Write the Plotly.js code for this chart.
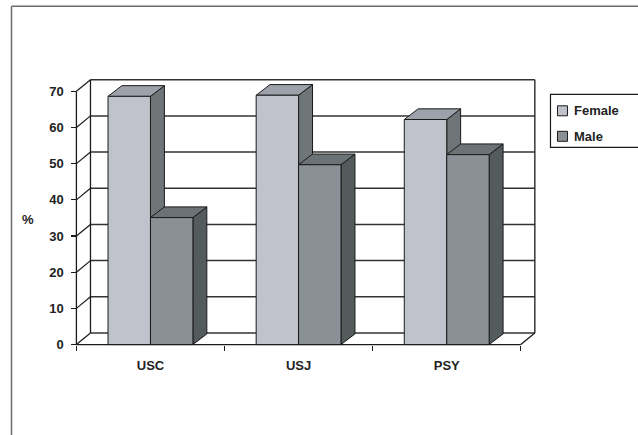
<!DOCTYPE html>
<html>
<head>
<meta charset="utf-8">
<script src="https://cdn.plot.ly/plotly-3.0.1.min.js"></script>
<style>
  html, body { margin: 0; padding: 0; background: #fff; }
  #chart { width: 638px; height: 435px; }
</style>
</head>
<body>
<div id="chart"></div>
<script>
// Data
const categories = ['USC', 'USJ', 'PSY'];
const seriesNames = ['Female', 'Male'];
const femaleValues = [68.6, 68.9, 62.2];
const maleValues = [35.1, 49.7, 52.5];
const yTickValues = [0, 10, 20, 30, 40, 50, 60, 70];

// Styling
const faceColors = [
  { front: '#c0c3cc', top: '#9da1a9', side: '#6f7678' },   // Female
  { front: '#899096', top: '#6b7376', side: '#535b5d' }    // Male
];
const edgeColor = '#1a1a1a';
const gridColor = '#333333';
const fontFamily = '"Liberation Sans", Arial, sans-serif';

// Page / plot geometry
const W = 638, H = 435;
const margin = { l: 68.6, r: 94.5, t: 74.7, b: 85.3, pad: 0 };
const xRange = [-0.55, 2.65];
const yRange = [-1.5, 74.5];
const yMax = 70;
const bargap = 0.427;
const barW = (1 - bargap) / 2;
const wallDx = 0.095, wallDy = 3.2;   // depth of the back wall
const barDx = 0.094, barDy = 2.95;    // depth of each column

const xs = categories.map((_, i) => i);
const seriesValues = [femaleValues, maleValues];

// pixel -> paper helpers for page-level decorations
const plotW = W - margin.l - margin.r;
const plotH = H - margin.t - margin.b;
const pX = px => (px - margin.l) / plotW;
const pY = py => (H - margin.b - py) / plotH;

const shapes = [];
function seg(x0, y0, x1, y1, color, width) {
  shapes.push({ type: 'line', xref: 'x', yref: 'y', x0, y0, x1, y1, layer: 'below',
    line: { color, width } });
}
function poly(pts, fill) {
  const d = 'M' + pts.map(p => p[0] + ',' + p[1]).join('L') + 'Z';
  shapes.push({ type: 'path', xref: 'x', yref: 'y', path: d, layer: 'below',
    fillcolor: fill, line: { color: edgeColor, width: 1 } });
}

// Back wall gridlines and left side-wall diagonals
const x0 = -0.5, x1 = categories.length - 0.5;
yTickValues.forEach(v => {
  seg(x0 + wallDx, v + wallDy, x1 + wallDx, v + wallDy, gridColor, 1.5);
  seg(x0, v, x0 + wallDx, v + wallDy, edgeColor, 1.2);
});
// wall edges, floor and front axis line
seg(x0 + wallDx, wallDy, x0 + wallDx, yMax + wallDy, edgeColor, 1.3);
seg(x1 + wallDx, wallDy, x1 + wallDx, yMax + wallDy, edgeColor, 1.3);
seg(x0, 0, x1, 0, edgeColor, 1.3);
seg(x1, 0, x1 + wallDx, wallDy, edgeColor, 1.3);
seg(x0, 0, x0, yMax, edgeColor, 1.3);

// Column depth faces (side + top), computed from the values
xs.forEach((c, i) => {
  seriesValues.forEach((vals, s) => {
    const v = vals[i];
    const left = c - barW + s * barW;
    const right = left + barW;
    poly([[right, 0], [right, v], [right + barDx, v + barDy], [right + barDx, barDy]], faceColors[s].side);
    poly([[left, v], [left + barDx, v + barDy], [right + barDx, v + barDy], [right, v]], faceColors[s].top);
  });
});

// Outer chart frame
const frame = '#6a6a6a';
shapes.push({ type: 'line', xref: 'paper', yref: 'paper', x0: pX(11), y0: pY(6), x1: pX(645), y1: pY(6), line: { color: frame, width: 1.5 } });
shapes.push({ type: 'line', xref: 'paper', yref: 'paper', x0: pX(11), y0: pY(6), x1: pX(11), y1: pY(445), line: { color: frame, width: 1.5 } });

// Legend box and swatches
shapes.push({ type: 'rect', xref: 'paper', yref: 'paper', x0: pX(551), y0: pY(94), x1: pX(650), y1: pY(147),
  fillcolor: 'rgba(0,0,0,0)', line: { color: edgeColor, width: 1.2 } });
const legendRows = [110.5, 136];
const annotations = [];
seriesNames.forEach((name, s) => {
  const cy = legendRows[s];
  shapes.push({ type: 'rect', xref: 'paper', yref: 'paper', x0: pX(558), y0: pY(cy - 5), x1: pX(568), y1: pY(cy + 5),
    fillcolor: faceColors[s].front, line: { color: edgeColor, width: 1 } });
  annotations.push({ xref: 'paper', yref: 'paper', x: pX(573), y: pY(cy), xanchor: 'left', yanchor: 'middle',
    text: name, showarrow: false, font: { family: fontFamily, size: 13, weight: 'bold', color: '#222' } });
});
annotations.push({ xref: 'paper', yref: 'paper', x: pX(28), y: pY(219), xanchor: 'center', yanchor: 'middle',
  text: '%', showarrow: false, font: { family: fontFamily, size: 13, weight: 'bold', color: '#222' } });

// Column front faces
const traces = seriesNames.map((name, s) => ({
  type: 'bar', name, x: xs, y: seriesValues[s],
  marker: { color: faceColors[s].front, line: { color: edgeColor, width: 1 } },
  hoverinfo: 'skip'
}));

const layout = {
  width: W, height: H, margin,
  paper_bgcolor: '#fff', plot_bgcolor: 'rgba(0,0,0,0)',
  barmode: 'group', bargap, bargroupgap: 0,
  showlegend: false,
  xaxis: {
    range: xRange, domain: [0, 1], anchor: 'free',
    position: (0 - yRange[0]) / (yRange[1] - yRange[0]),
    tickmode: 'array', tickvals: xs, ticktext: categories, ticks: '',
    ticklabelstandoff: 11,
    showgrid: false, zeroline: false, showline: false,
    tickfont: { family: fontFamily, size: 13, weight: 'bold', color: '#222' },
    minor: { tickmode: 'array', tickvals: [x0, 0.5, 1.5, x1], ticks: 'outside', ticklen: 5,
      tickcolor: edgeColor, tickwidth: 1.2, showgrid: false }
  },
  yaxis: {
    range: yRange, domain: [0, 1], anchor: 'free',
    position: (x0 - xRange[0]) / (xRange[1] - xRange[0]),
    tickmode: 'array', tickvals: yTickValues, ticks: 'outside', ticklen: 5,
    ticklabelstandoff: 5,
    tickcolor: edgeColor, tickwidth: 1.2,
    showgrid: false, zeroline: false, showline: false,
    tickfont: { family: fontFamily, size: 13, weight: 'bold', color: '#222' }
  },
  shapes, annotations
};

Plotly.newPlot('chart', traces, layout, { staticPlot: true });
</script>
</body>
</html>
